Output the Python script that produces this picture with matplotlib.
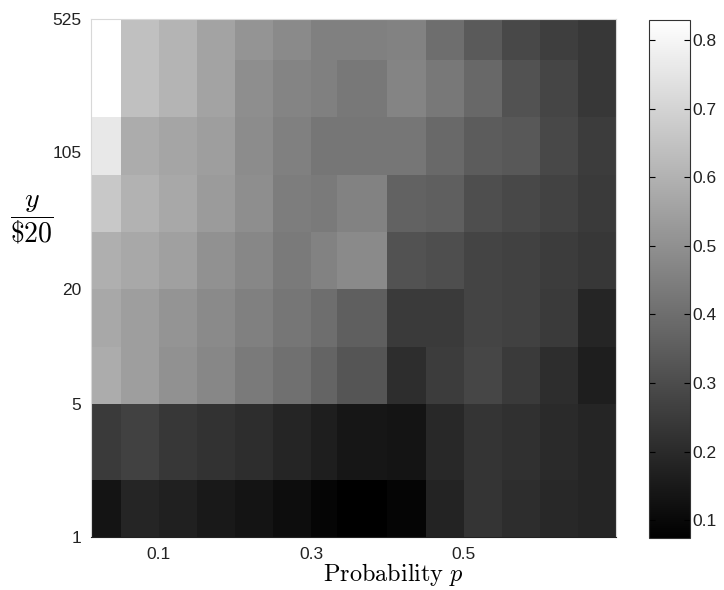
import numpy as np
import matplotlib
matplotlib.use('Agg')
import matplotlib.pyplot as plt

plt.rcParams['mathtext.fontset'] = 'cm'
plt.rcParams['font.family'] = ['Liberation Sans', 'DejaVu Sans']

# bordas das celulas: probabilidade p (eixo x) e y/$20 (eixo y, log)
p_edges = [0.011, 0.05, 0.10, 0.15, 0.20, 0.25, 0.30, 1/3, 0.40,
           0.45, 0.50, 0.55, 0.60, 0.65, 0.70]
y_edges = [1, 2, 5, 10, 20, 40, 80, 160, 320, 525]

# valores de cada celula, linha de baixo (y 1-2) ate a de cima (y 320-525)
row_1_2 = [0.133, 0.186, 0.169, 0.148, 0.133, 0.115, 0.089, 0.074, 0.089, 0.178, 0.228, 0.207, 0.192, 0.186]
row_2_5 = [0.246, 0.266, 0.237, 0.222, 0.207, 0.186, 0.163, 0.139, 0.133, 0.192, 0.228, 0.216, 0.198, 0.186]
row_5_10 = [0.583, 0.542, 0.503, 0.474, 0.435, 0.406, 0.370, 0.326, 0.207, 0.252, 0.281, 0.246, 0.207, 0.163]
row_10_20 = [0.571, 0.542, 0.512, 0.482, 0.453, 0.423, 0.400, 0.355, 0.246, 0.246, 0.275, 0.266, 0.246, 0.186]
row_20_40 = [0.592, 0.571, 0.548, 0.503, 0.474, 0.435, 0.459, 0.482, 0.317, 0.305, 0.275, 0.266, 0.252, 0.237]
row_40_80 = [0.666, 0.601, 0.571, 0.533, 0.494, 0.444, 0.435, 0.459, 0.364, 0.355, 0.305, 0.287, 0.269, 0.246]
row_80_160 = [0.761, 0.583, 0.562, 0.542, 0.488, 0.453, 0.423, 0.423, 0.423, 0.385, 0.346, 0.334, 0.287, 0.252]
row_160_320 = [np.nan, 0.642, 0.607, 0.556, 0.494, 0.465, 0.453, 0.429, 0.465, 0.429, 0.382, 0.317, 0.278, 0.237]
row_320_525 = [np.nan, 0.642, 0.607, 0.556, 0.512, 0.482, 0.453, 0.453, 0.459, 0.400, 0.340, 0.287, 0.258, 0.237]

x_ticks = [0.1, 0.3, 0.5]
y_ticks = [1, 5, 20, 105, 525]
cbar_ticks = [0.1, 0.2, 0.3, 0.4, 0.5, 0.6, 0.7, 0.8]

valores = np.ma.masked_invalid(np.array([row_1_2, row_2_5, row_5_10, row_10_20, row_20_40,
                                         row_40_80, row_80_160, row_160_320, row_320_525]))

fig = plt.figure(figsize=(7.24, 5.90), dpi=100)
ax = fig.add_axes([91/724, 53/590, 525/724, 518/590])
cax = fig.add_axes([649/724, 52/590, 41/724, 518/590])

im = ax.pcolormesh(p_edges, y_edges, valores, cmap='gray', vmin=0.074, vmax=0.829)
ax.set_yscale('log')
ax.set_xlim(p_edges[0], p_edges[-1])
ax.set_ylim(y_edges[0], y_edges[-1])

ax.set_xticks(x_ticks)
ax.set_xticklabels([str(t) for t in x_ticks])
ax.set_yticks(y_ticks)
ax.set_yticklabels([str(t) for t in y_ticks])
ax.minorticks_off()
ax.tick_params(length=0, labelsize=12.5, labelcolor='#222222', pad=7)

for lado in ['top', 'right', 'left']:
    ax.spines[lado].set_color('#d8d8d8')
    ax.spines[lado].set_linewidth(0.8)
ax.spines['bottom'].set_color('#222222')

ax.set_xlabel(r'$\mathrm{Probability}\ p$', fontsize=17.5)
ax.xaxis.set_label_coords(0.577, -0.047)
ax.set_ylabel(r'$\dfrac{y}{\$20}$', fontsize=20, rotation=0)
ax.yaxis.set_label_coords(-0.112, 0.612)
ax.yaxis.label.set_va('center')

cb = fig.colorbar(im, cax=cax, ticks=cbar_ticks)
cb.ax.tick_params(direction='in', length=4, labelsize=12.5, labelcolor='#222222',
                  left=True, right=True, pad=2)
cb.outline.set_edgecolor('#333333')
cb.outline.set_linewidth(0.8)

plt.savefig('out.png', dpi=100)
